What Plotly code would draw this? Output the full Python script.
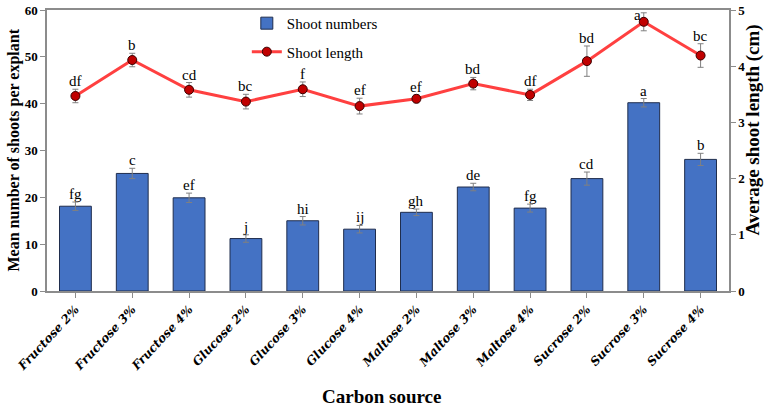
import plotly.graph_objects as go

categories = ["Fructose 2%", "Fructose 3%", "Fructose 4%", "Glucose 2%", "Glucose 3%", "Glucose 4%",
              "Maltose 2%", "Maltose 3%", "Maltose 4%", "Sucrose 2%", "Sucrose 3%", "Sucrose 4%"]
shoot_numbers = [18.1, 25.1, 19.9, 11.2, 15.0, 13.2, 16.8, 22.2, 17.7, 24.0, 40.2, 28.1]
shoot_numbers_err = [0.9, 1.1, 1.0, 0.8, 0.9, 0.8, 0.7, 0.8, 0.85, 1.4, 0.9, 1.3]
shoot_numbers_letters = ["fg", "c", "ef", "j", "hi", "ij", "gh", "de", "fg", "cd", "a", "b"]
shoot_length = [3.47, 4.11, 3.58, 3.37, 3.59, 3.29, 3.42, 3.69, 3.49, 4.09, 4.79, 4.19]
shoot_length_err = [0.12, 0.12, 0.13, 0.13, 0.13, 0.14, 0.07, 0.11, 0.10, 0.27, 0.16, 0.21]
shoot_length_letters = ["df", "b", "cd", "bc", "f", "ef", "ef", "bd", "df", "bd", "a", "bc"]

SERIF = "Liberation Serif"
WIDE = "DejaVu Serif"
AX = "#8c8c8c"
Y2_MAX = 5

fig = go.Figure()
fig.add_trace(go.Bar(
    x=categories, y=shoot_numbers, name="Shoot numbers",
    marker=dict(color="#4472C4", line=dict(color="#1f2d4d", width=1)),
    error_y=dict(type="data", array=shoot_numbers_err, color="#808080", thickness=1, width=3),
    legendgroup="a",
))
fig.add_trace(go.Scatter(
    x=categories, y=shoot_length, name="Shoot length", yaxis="y2", mode="lines+markers",
    line=dict(color="#FF4040", width=3),
    marker=dict(color="#C00000", size=9, line=dict(color="#3a0000", width=1)),
    error_y=dict(type="data", array=shoot_length_err, color="#808080", thickness=1, width=3),
    legendgroup="b",
))

annotations = []
for i, c in enumerate(categories):
    annotations.append(dict(x=c, y=shoot_numbers[i] + shoot_numbers_err[i], xref="x", yref="y",
                            text=shoot_numbers_letters[i], showarrow=False, yanchor="bottom", yshift=-2,
                            font=dict(family=SERIF, size=15, color="black")))
    top = shoot_length[i] + shoot_length_err[i]
    if top > Y2_MAX * 0.96:
        # no room above: letter sits beside the error bar
        annotations.append(dict(x=c, y=top, xref="x", yref="y2",
                                text=shoot_length_letters[i], showarrow=False, xanchor="right",
                                yanchor="middle", xshift=-1, yshift=-2,
                                font=dict(family=SERIF, size=15, color="black")))
    else:
        annotations.append(dict(x=c, y=top, xref="x", yref="y2",
                                text=shoot_length_letters[i], showarrow=False, yanchor="bottom", yshift=-2,
                                font=dict(family=SERIF, size=15, color="black")))

# axis titles
annotations.append(dict(x=0, y=0.5, xref="paper", yref="paper", xanchor="center", yanchor="middle",
                        xshift=-34, textangle=-90, showarrow=False,
                        text="Mean number of shoots per explant",
                        font=dict(family=SERIF, size=16, weight="bold", color="black")))
annotations.append(dict(x=1, y=0.571, xref="paper", yref="paper", xanchor="center", yanchor="middle",
                        xshift=24, textangle=-90, showarrow=False,
                        text="Average shoot length (cm)",
                        font=dict(family=SERIF, size=19, weight="bold", color="black")))
annotations.append(dict(x=0.49, y=0, xref="paper", yref="paper", xanchor="center", yanchor="middle",
                        yshift=-105, showarrow=False,
                        text="Carbon source",
                        font=dict(family=SERIF, size=19, weight="bold", color="black")))

fig.update_layout(
    width=769, height=409,
    margin=dict(l=47, r=40, t=10, b=118, autoexpand=False),
    paper_bgcolor="white", plot_bgcolor="white",
    font=dict(family=SERIF, color="black"),
    bargap=0.44,
    showlegend=True,
    legend=dict(x=0.293, y=1.011, xanchor="left", yanchor="top", bgcolor="rgba(0,0,0,0)",
                font=dict(family=SERIF, size=15), tracegroupgap=6, itemwidth=30),
    xaxis=dict(
        range=[-0.5, 11.5], showline=True, linecolor=AX, linewidth=1.5, mirror=True,
        ticks="outside", ticklen=5, tickcolor=AX, tickangle=-47, automargin=False,
        tickfont=dict(family=WIDE, size=12, weight="bold", style="italic", color="black"),
        showgrid=False, zeroline=False,
    ),
    yaxis=dict(
        range=[0, 60], dtick=10, showline=True, linecolor=AX, linewidth=1.5, automargin=False,
        ticks="outside", ticklen=5, tickcolor=AX, ticklabeloverflow="allow",
        tickfont=dict(family=SERIF, size=13, weight="bold"),
        showgrid=False, zeroline=False,
    ),
    yaxis2=dict(
        range=[0, Y2_MAX], dtick=1, overlaying="y", side="right", showline=True, linecolor=AX, linewidth=1.5,
        ticks="outside", ticklen=5, tickcolor=AX, automargin=False, ticklabeloverflow="allow",
        tickfont=dict(family=SERIF, size=13, weight="bold"),
        showgrid=False, zeroline=False,
    ),
    annotations=annotations,
)
fig.write_html("out.html", config={"displayModeBar": False},
               post_script="document.body.style.margin='0px';")
